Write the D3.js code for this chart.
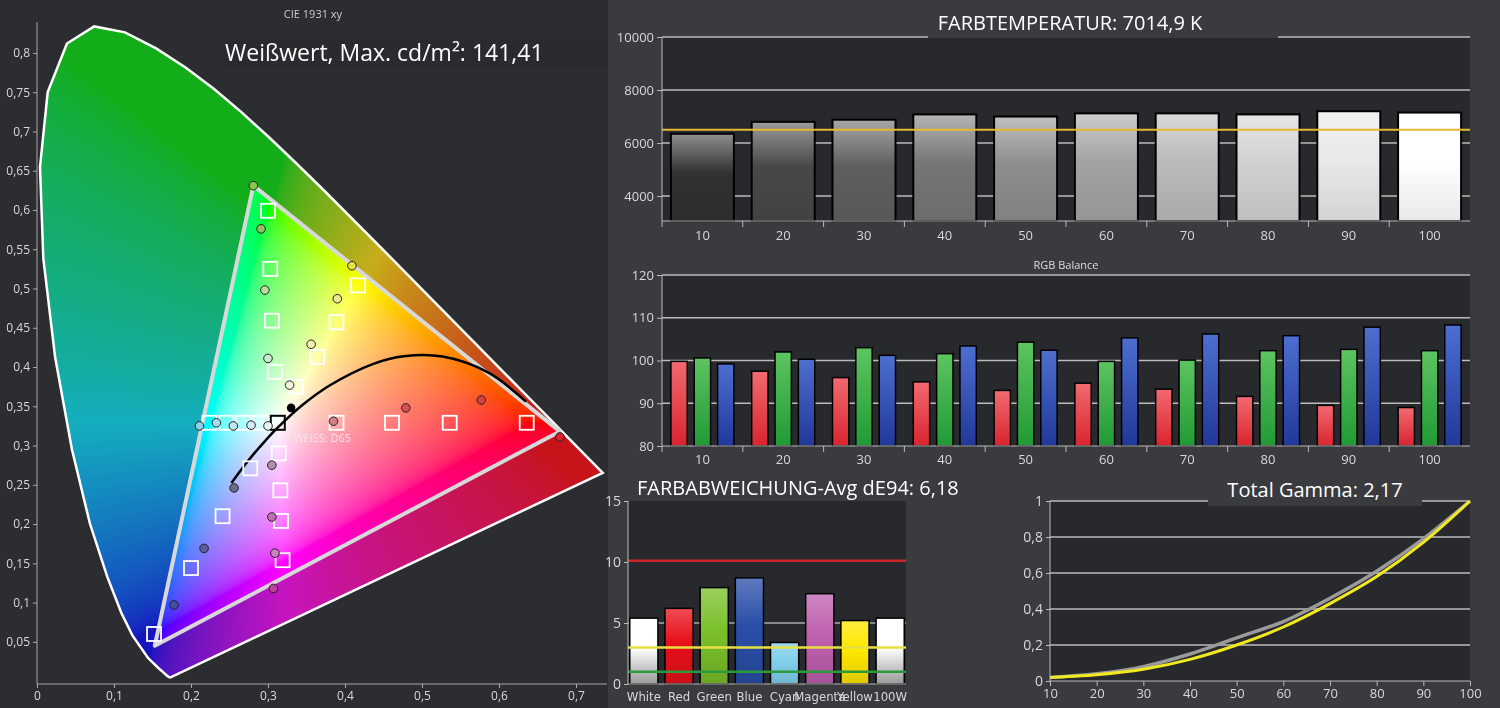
<!DOCTYPE html>
<html><head><meta charset="utf-8">
<script src="https://cdn.jsdelivr.net/npm/d3@7"></script>
<style>body{margin:0;background:#3a3b3e;overflow:hidden}#wrap{position:relative;width:1500px;height:708px}canvas,svg{position:absolute;left:0;top:0}</style>
</head><body><div id="wrap"><canvas id="cv" width="1500" height="708"></canvas><svg id="svg" width="1500" height="708"></svg></div>
<script>
// ---------- DATA ----------
const locus = [[0.1741,0.0050],[0.1738,0.0049],[0.1733,0.0048],[0.1726,0.0048],[0.1714,0.0051],[0.1689,0.0069],[0.1644,0.0109],[0.1566,0.0177],[0.1440,0.0297],[0.1241,0.0578],[0.1096,0.0868],[0.0913,0.1327],[0.0687,0.2007],[0.0454,0.2950],[0.0235,0.4127],[0.0082,0.5384],[0.0039,0.6548],[0.0139,0.7502],[0.0389,0.8120],[0.0743,0.8338],[0.1142,0.8262],[0.1547,0.8059],[0.1929,0.7816],[0.2296,0.7543],[0.2658,0.7243],[0.3016,0.6923],[0.3373,0.6589],[0.3731,0.6245],[0.4441,0.5547],[0.5125,0.4866],[0.5752,0.4242],[0.6270,0.3725],[0.6658,0.3340],[0.6915,0.3083],[0.7190,0.2809],[0.7347,0.2653]];
const gamutMeasured = [[0.281,0.631],[0.679,0.318],[0.153,0.045]];
const planck = [[0.2525,0.2522],[0.2637,0.2674],[0.2807,0.2884],[0.2952,0.3048],[0.3135,0.3237],[0.3447,0.3516],[0.3805,0.3768],[0.4369,0.4041],[0.4764,0.4137],[0.5267,0.4133],[0.5857,0.3931],[0.6350,0.3560]];
const targetSquares = [[0.300,0.599],[0.303,0.525],[0.417,0.504],[0.305,0.459],[0.389,0.457],[0.364,0.413],[0.309,0.394],[0.336,0.375],[0.389,0.329],[0.461,0.329],[0.536,0.329],[0.636,0.329],[0.224,0.329],[0.246,0.329],[0.268,0.329],[0.290,0.329],[0.314,0.290],[0.277,0.271],[0.316,0.243],[0.241,0.210],[0.317,0.204],[0.319,0.154],[0.200,0.144],[0.152,0.060]];
const whiteTarget = [0.3127,0.329];
const measuredPts = [[0.281,0.631,"#8bc34a"],[0.291,0.576,"#8fc25a"],[0.409,0.529,"#e8e040"],[0.296,0.498,"#b8dc9a"],[0.390,0.487,"#eee890"],[0.356,0.429,"#f0eeb0"],[0.300,0.411,"#cdebd0"],[0.328,0.377,"#f5f2dd"],[0.211,0.325,"#8fd0e8"],[0.233,0.329,"#a9dcee"],[0.255,0.325,"#c0e6f2"],[0.278,0.326,"#d4eef5"],[0.300,0.325,"#e6f4f7"],[0.385,0.331,"#d08080"],[0.479,0.348,"#d85050"],[0.577,0.358,"#d84040"],[0.679,0.311,"#e02030"],[0.305,0.275,"#b090b0"],[0.256,0.246,"#6a6a90"],[0.305,0.209,"#c070b0"],[0.309,0.163,"#d080c0"],[0.217,0.169,"#5a5aa0"],[0.307,0.118,"#c040a0"],[0.178,0.097,"#4050a0"]];
const whiteMeasured = [0.330,0.348];
const cieXTicks = [0,0.1,0.2,0.3,0.4,0.5,0.6,0.7];
const cieYTicks = [0.05,0.1,0.15,0.2,0.25,0.3,0.35,0.4,0.45,0.5,0.55,0.6,0.65,0.7,0.75,0.8];

const levels = [10,20,30,40,50,60,70,80,90,100];
const cct = [6350,6800,6880,7080,7000,7120,7120,7080,7200,7150];
const cctTarget = 6500;
const cctTicks = [4000,6000,8000,10000];

const rgbR = [99.8,97.5,96.0,95.0,93.0,94.7,93.3,91.6,89.5,89.0];
const rgbG = [100.6,102.0,103.0,101.6,104.3,99.8,100.1,102.3,102.6,102.3];
const rgbB = [99.2,100.3,101.2,103.4,102.4,105.3,106.2,105.8,107.8,108.3];
const rgbTicks = [80,90,100,110,120];

const deCats = ["White","Red","Green","Blue","Cyan","Magenta","Yellow","100W"];
const deVals = [5.4,6.2,7.9,8.7,3.4,7.4,5.2,5.4];
const deColors = ["#ffffff","#e8101a","#7ac02a","#2a4fa8","#80d0ec","#c060b0","#ffe800","#ffffff"];
const deTicks = [0,5,10,15];

const gammaX = [10,20,30,40,50,60,70,80,90,100];
const gammaRef = [0.02,0.04,0.08,0.15,0.24,0.33,0.46,0.61,0.79,1.0];
const gammaMeas = [0.02,0.035,0.065,0.12,0.2,0.30,0.43,0.58,0.77,1.0];
const gammaYTicks = [0,0.2,0.4,0.6,0.8,1];

const fmt = v => String(+v.toFixed(2)).replace(".",",");
const svg = d3.select("#svg");
const defs = svg.append("defs");
const LBL = "#d8d8d8";
const FONT = "Open Sans, DejaVu Sans, sans-serif";

// ---------- CIE ----------
const cx = d3.scaleLinear().domain([0,1]).range([37,807]);
const cy = d3.scaleLinear().domain([0.33,0.6]).range([422,210]);
(function(){
  const ctx = document.getElementById("cv").getContext("2d");
  ctx.fillStyle="#3a3b3e";ctx.fillRect(0,0,1500,708);
  ctx.fillStyle="#2c2d30";ctx.fillRect(0,0,608,708);
  ctx.save();
  ctx.beginPath();
  locus.forEach((p,i)=>{const X=cx(p[0]),Y=cy(p[1]); i?ctx.lineTo(X,Y):ctx.moveTo(X,Y);});
  ctx.closePath(); ctx.clip();
  const tri = gamutMeasured.map(p=>[cx(p[0]),cy(p[1])]);
  function inTri(px,py){
    let s=0;for(let i=0;i<3;i++){const a=tri[i],b=tri[(i+1)%3];const c=(b[0]-a[0])*(py-a[1])-(b[1]-a[1])*(px-a[0]);s+=c>0?1:-1;}return Math.abs(s)===3;}
  const g = v=> v<=0.0031308?12.92*v:1.055*Math.pow(v,1/2.4)-0.055;
  const off = document.createElement("canvas");off.width=620;off.height=708;
  const oc=off.getContext("2d");const od=oc.createImageData(620,708);
  for(let py=0;py<708;py++)for(let px=0;px<620;px++){
    const x=cx.invert(px),y=cy.invert(py); if(y<=0.001) continue;
    const X=x/y,Y=1,Z=(1-x-y)/y;
    let r=3.2406*X-1.5372*Y-0.4986*Z, gg=-0.9689*X+1.8758*Y+0.0415*Z, b=0.0557*X-0.2040*Y+1.0570*Z;
    const inside=inTri(px,py);
    let R,G,B;
    if(inside){
      let m=Math.min(r,gg,b); if(m<0){r-=m;gg-=m;b-=m;}
      let M=Math.max(r,gg,b); R=g(r/M);G=g(gg/M);B=g(b/M);
    } else {
      r=Math.max(0,r);gg=Math.max(0,gg);b=Math.max(0,b);
      let M=Math.max(r,gg,b); R=g(r/M)*0.78;G=g(gg/M)*0.68;B=g(b/M)*0.75;
      const mn=Math.min(R,G,B); R-=mn*0.6;G-=mn*0.6;B-=mn*0.6;
      R=Math.max(R,0.08);G=Math.max(G,0.08);B=Math.max(B,0.1);
    }
    const i=(py*620+px)*4; od.data[i]=R*255;od.data[i+1]=G*255;od.data[i+2]=B*255;od.data[i+3]=255;
  }
  oc.putImageData(od,0,0);
  ctx.drawImage(off,0,0);
  ctx.restore();
})();
const cie = svg.append("g");
cie.append("path").datum(locus).attr("d",d3.line().x(d=>cx(d[0])).y(d=>cy(d[1])).curve(d3.curveLinearClosed))
  .attr("fill","none").attr("stroke","#fff").attr("stroke-width",2.5);
cie.append("text").attr("x",313).attr("y",18).attr("text-anchor","middle").attr("fill","#ccc").attr("font-family",FONT).attr("font-size",11).text("CIE 1931 xy");
const axX = cie.append("g").attr("transform","translate(0,684)").call(d3.axisBottom(cx).tickValues(cieXTicks).tickFormat(fmt).tickSize(4));
const axY = cie.append("g").attr("transform","translate(37,0)").call(d3.axisLeft(cy).tickValues(cieYTicks).tickFormat(fmt).tickSize(4));
[axX,axY].forEach(a=>{a.select(".domain").attr("stroke","#aaa");a.selectAll("line").attr("stroke","#aaa");a.selectAll("text").attr("fill",LBL).attr("font-family",FONT).attr("font-size",12);});
axX.select(".domain").attr("d","M37,0H607");
axY.select(".domain").attr("d","M0,684V22");
cie.append("path").datum(gamutMeasured).attr("d",d3.line().x(d=>cx(d[0])).y(d=>cy(d[1])).curve(d3.curveLinearClosed))
  .attr("fill","none").attr("stroke","#d8d8d8").attr("stroke-width",4).attr("stroke-linejoin","round");
cie.append("path").datum(planck).attr("d",d3.line().x(d=>cx(d[0])).y(d=>cy(d[1])).curve(d3.curveCatmullRom))
  .attr("fill","none").attr("stroke","#000").attr("stroke-width",2.5);
cie.selectAll(".sq").data(targetSquares).join("rect").attr("x",d=>cx(d[0])-7).attr("y",d=>cy(d[1])-7).attr("width",14).attr("height",14)
  .attr("fill","none").attr("stroke","#fff").attr("stroke-width",1.8);
cie.append("rect").attr("x",cx(whiteTarget[0])-7).attr("y",cy(whiteTarget[1])-7).attr("width",14).attr("height",14).attr("fill","none").attr("stroke","#000").attr("stroke-width",2);
cie.selectAll(".pt").data(measuredPts).join("circle").attr("cx",d=>cx(d[0])).attr("cy",d=>cy(d[1])).attr("r",4.3)
  .attr("fill",d=>d[2]).attr("stroke","#222").attr("stroke-width",1);
cie.append("circle").attr("cx",cx(whiteMeasured[0])).attr("cy",cy(whiteMeasured[1])).attr("r",4.3).attr("fill","#000");
cie.append("text").attr("x",cx(0.333)).attr("y",cy(0.305)).attr("fill","#f3e6ea").attr("font-family",FONT).attr("font-size",11).text("WEISS: D65");
cie.append("rect").attr("x",222).attr("y",34).attr("width",386).attr("height",35).attr("fill","#2a2b2e");
cie.append("text").attr("x",225).attr("y",61).attr("fill","#fff").attr("font-family",FONT).attr("font-size",23).text("Weißwert, Max. cd/m²: 141,41");

function styleAxis(a,fs){a.select(".domain").attr("stroke","#bbb");a.selectAll("line").attr("stroke","#bbb");a.selectAll("text").attr("fill",LBL).attr("font-family",FONT).attr("font-size",fs||13);}

// ---------- FARBTEMPERATUR ----------
(function(){
  const L=662,R=1470,T=37,B=221;
  svg.append("rect").attr("x",L).attr("y",T).attr("width",R-L).attr("height",B-T).attr("fill","#28292c");
  const x=d3.scaleBand().domain(levels).range([L,R]).paddingInner(0.22).paddingOuter(0.11);
  const y=d3.scaleLinear().domain([3060,10000]).range([B,T]);
  svg.append("g").selectAll("line").data(cctTicks).join("line").attr("x1",L).attr("x2",R).attr("y1",d=>y(d)).attr("y2",d=>y(d)).attr("stroke","#bbb").attr("stroke-width",1.5);
  const bw=d3.scaleLinear().domain([10,100]).range([0.08,1]);
  levels.forEach((lv,i)=>{
    const c=d3.interpolateRgb("#1e1f21","#ffffff")(bw(lv));
    const gr=defs.append("linearGradient").attr("id","cg"+i).attr("x1",0).attr("x2",0).attr("y1",0).attr("y2",1);
    gr.append("stop").attr("offset","0%").attr("stop-color",d3.interpolateRgb(c,"#fff")(0.45));
    gr.append("stop").attr("offset","45%").attr("stop-color",c);
    gr.append("stop").attr("offset","100%").attr("stop-color",d3.color(c).darker(0.25));
  });
  svg.append("g").selectAll("rect").data(cct).join("rect").attr("x",(d,i)=>x(levels[i])).attr("width",x.bandwidth())
    .attr("y",d=>y(d)).attr("height",d=>B-y(d)).attr("fill",(d,i)=>`url(#cg${i})`).attr("stroke","#000").attr("stroke-width",2);
  svg.append("line").attr("x1",L).attr("x2",R).attr("y1",y(cctTarget)).attr("y2",y(cctTarget)).attr("stroke","#e6b830").attr("stroke-width",2);
  const ay=svg.append("g").attr("transform",`translate(${L},0)`).call(d3.axisLeft(y).tickValues(cctTicks).tickFormat(d3.format("d")).tickSize(5));styleAxis(ay);
  ay.select(".domain").attr("d",`M0,${B}V${T}`);
  const ax=svg.append("g").attr("transform",`translate(0,${B})`).call(d3.axisBottom(x).tickSize(0).tickPadding(10));styleAxis(ax);
  ax.select(".domain").attr("d",`M${L},0H${R}`);
  svg.append("g").selectAll("line").data(levels).join("line").attr("x1",d=>x(d)-x.step()*0.11).attr("x2",d=>x(d)-x.step()*0.11).attr("y1",B).attr("y2",B+6).attr("stroke","#bbb");
  svg.append("rect").attr("x",928).attr("y",10).attr("width",350).attr("height",28).attr("fill","#3a3b3e");
  svg.append("text").attr("x",1070).attr("y",30).attr("text-anchor","middle").attr("fill","#fff").attr("font-family",FONT).attr("font-size",20).text("FARBTEMPERATUR: 7014,9 K");
})();

// ---------- RGB Balance ----------
(function(){
  const L=662,R=1470,T=275,B=446;
  svg.append("rect").attr("x",L).attr("y",T).attr("width",R-L).attr("height",B-T).attr("fill","#28292c");
  const x=d3.scaleBand().domain(levels).range([L,R]).paddingInner(0.22).paddingOuter(0.11);
  const xs=d3.scaleBand().domain([0,1,2]).range([0,x.bandwidth()]).paddingInner(0.3);
  const y=d3.scaleLinear().domain([80,120]).range([B,T]);
  svg.append("g").selectAll("line").data(rgbTicks.slice(1)).join("line").attr("x1",L).attr("x2",R).attr("y1",d=>y(d)).attr("y2",d=>y(d)).attr("stroke","#bbb").attr("stroke-width",1.5);
  const cols=[["#f26a70","#d9242e"],["#5dc460","#209a35"],["#4d6fd0","#20389a"]];
  cols.forEach((c,k)=>{const gr=defs.append("linearGradient").attr("id","rg"+k).attr("x1",0).attr("x2",0).attr("y1",0).attr("y2",1);
    gr.append("stop").attr("offset","0%").attr("stop-color",c[0]);gr.append("stop").attr("offset","100%").attr("stop-color",c[1]);});
  [rgbR,rgbG,rgbB].forEach((arr,k)=>{
    svg.append("g").selectAll("rect").data(arr).join("rect").attr("x",(d,i)=>x(levels[i])+xs(k)).attr("width",xs.bandwidth())
      .attr("y",d=>y(d)).attr("height",d=>B-y(d)).attr("fill",`url(#rg${k})`).attr("stroke","#000").attr("stroke-width",1.5);
  });
  const ay=svg.append("g").attr("transform",`translate(${L},0)`).call(d3.axisLeft(y).tickValues(rgbTicks).tickSize(5));styleAxis(ay);
  ay.select(".domain").attr("d",`M0,${B}V${T}`);
  const ax=svg.append("g").attr("transform",`translate(0,${B})`).call(d3.axisBottom(x).tickSize(0).tickPadding(9));styleAxis(ax);
  ax.select(".domain").attr("d",`M${L},0H${R}`);
  svg.append("g").selectAll("line").data(levels).join("line").attr("x1",d=>x(d)-x.step()*0.11).attr("x2",d=>x(d)-x.step()*0.11).attr("y1",B).attr("y2",B+6).attr("stroke","#bbb");
  svg.append("text").attr("x",1066).attr("y",269).attr("text-anchor","middle").attr("fill","#ddd").attr("font-family",FONT).attr("font-size",11).text("RGB Balance");
})();

// ---------- FARBABWEICHUNG ----------
(function(){
  const L=628,R=906,T=501,B=684;
  svg.append("rect").attr("x",L).attr("y",T).attr("width",R-L).attr("height",B-T).attr("fill","#28292c");
  const x=d3.scaleBand().domain(deCats).range([L,R]).paddingInner(0.2).paddingOuter(0.05);
  const y=d3.scaleLinear().domain([0,15]).range([B,T]);
  svg.append("line").attr("x1",L).attr("x2",R).attr("y1",y(5)).attr("y2",y(5)).attr("stroke","#aaa").attr("stroke-width",1.5);
  deColors.forEach((c,k)=>{const gr=defs.append("linearGradient").attr("id","dg"+k).attr("x1",0).attr("x2",0).attr("y1",0).attr("y2",1);
    gr.append("stop").attr("offset","0%").attr("stop-color",d3.interpolateRgb(c,"#fff")(0.25));
    gr.append("stop").attr("offset","45%").attr("stop-color",c);
    gr.append("stop").attr("offset","100%").attr("stop-color",c==="#ffffff"?"#9a9a9a":d3.color(c).darker(0.4));});
  svg.append("g").selectAll("rect").data(deVals).join("rect").attr("x",(d,i)=>x(deCats[i])).attr("width",x.bandwidth())
    .attr("y",d=>y(d)).attr("height",d=>B-y(d)).attr("fill",(d,i)=>`url(#dg${i})`).attr("stroke","#000").attr("stroke-width",1.5);
  [[10.1,"#d02828"],[3,"#e8e040"],[1,"#2a9a3a"]].forEach(([v,c])=>svg.append("line").attr("x1",L).attr("x2",R).attr("y1",y(v)).attr("y2",y(v)).attr("stroke",c).attr("stroke-width",2.5));
  const ay=svg.append("g").attr("transform",`translate(${L},0)`).call(d3.axisLeft(y).tickValues(deTicks).tickSize(4));styleAxis(ay,14);
  ay.select(".domain").attr("d",`M0,${B}V${T}`);
  const ax=svg.append("g").attr("transform",`translate(0,${B})`).call(d3.axisBottom(x).tickSize(0).tickPadding(8));styleAxis(ax,12);
  ax.selectAll("text").attr("font-family","Liberation Sans Narrow, DejaVu Sans Condensed, sans-serif").attr("font-size",13);
  ax.select(".domain").attr("d",`M${L},0H${R}`);
  svg.append("text").attr("x",637).attr("y",495).attr("fill","#fff").attr("font-family",FONT).attr("font-size",20).text("FARBABWEICHUNG-Avg dE94: 6,18");
})();

// ---------- Gamma ----------
(function(){
  const L=1050,R=1470,T=501,B=681;
  svg.append("rect").attr("x",L).attr("y",T).attr("width",R-L).attr("height",B-T).attr("fill","#28292c");
  const x=d3.scaleLinear().domain([10,100]).range([L,R]);
  const y=d3.scaleLinear().domain([0,1]).range([B,T]);
  svg.append("g").selectAll("line").data(gammaYTicks.slice(1)).join("line").attr("x1",L).attr("x2",R).attr("y1",d=>y(d)).attr("y2",d=>y(d)).attr("stroke","#bbb").attr("stroke-width",1.5);
  const line=d3.line().x((d,i)=>x(gammaX[i])).y(d=>y(d)).curve(d3.curveMonotoneX);
  svg.append("path").datum(gammaRef).attr("d",line).attr("fill","none").attr("stroke","#9a9a9a").attr("stroke-width",3.5);
  svg.append("path").datum(gammaMeas).attr("d",line).attr("fill","none").attr("stroke","#f0e820").attr("stroke-width",3);
  const ay=svg.append("g").attr("transform",`translate(${L},0)`).call(d3.axisLeft(y).tickValues(gammaYTicks).tickFormat(fmt).tickSize(4));styleAxis(ay,14);
  ay.select(".domain").attr("d",`M0,${B}V${T}`);
  const ax=svg.append("g").attr("transform",`translate(0,${B})`).call(d3.axisBottom(x).tickValues(gammaX).tickSize(5));styleAxis(ax,13);
  ax.select(".domain").attr("d",`M${L},0H${R}`);
  svg.append("rect").attr("x",1208).attr("y",476).attr("width",214).attr("height",30).attr("fill","#3a3b3e");
  svg.append("text").attr("x",1315).attr("y",497).attr("text-anchor","middle").attr("fill","#fff").attr("font-family",FONT).attr("font-size",20).text("Total Gamma: 2,17");
})();
</script></body></html>
